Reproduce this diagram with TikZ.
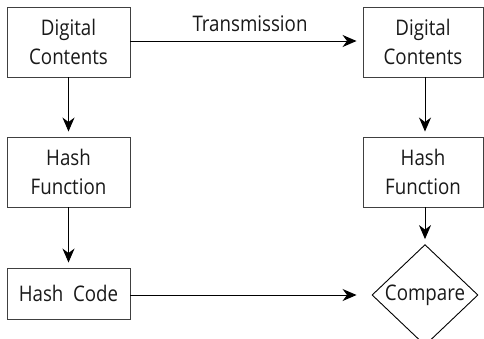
\documentclass[tikz,border=0pt]{standalone}
\usepackage{fontspec}
\setmainfont{Open Sans}[FakeStretch=0.87]
\usetikzlibrary{arrows.meta,shapes.geometric}
\begin{document}
\begin{tikzpicture}[x=1pt,y=-1pt,
  every node/.style={font=\fontsize{21.5}{29}\selectfont, text=black!90},
  box/.style={draw=black!75, line width=0.9pt, inner sep=0pt, align=center},
  arr/.style={draw=black, line width=1pt, -{Stealth[length=14pt,width=12pt,inset=4.5pt]}},
  cmpbox/.style={draw=black, line width=0.9pt, diamond, inner sep=0pt, minimum width=106pt, minimum height=88pt}
]
\useasboundingbox (0,0) rectangle (484,338);
\node[box, minimum width=123pt, minimum height=70pt] (dc1) at (68.5,42) {Digital\\Contents};
\node[box, minimum width=123pt, minimum height=70pt] (hf1) at (68.5,172) {Hash\\Function};
\node[box, minimum width=123pt, minimum height=51pt] (hc) at (68.5,293.5) {Hash~\ Code};
\node[box, minimum width=120pt, minimum height=70pt] (dc2) at (423,42) {Digital\\Contents};
\node[box, minimum width=120pt, minimum height=70pt] (hf2) at (423,172) {Hash\\Function};
\node[cmpbox] (cmp) at (425,295) {Compare};
\node[anchor=base] (trans) at (250,31) {Transmission};
\draw[arr, shorten >=5pt] (dc1.south) -- (hf1.north);
\draw[arr, shorten >=5pt] (hf1.south) -- (hc.north);
\draw[arr, shorten >=6pt] (dc1.east |- 0,41) -- (dc2.west |- 0,41);
\draw[arr, shorten >=5pt] (dc2.south -| cmp.north) -- (hf2.north -| cmp.north);
\draw[arr, shorten >=5pt] (hf2.south -| cmp.north) -- (cmp.north);
\draw[arr, shorten >=15pt] (hc.east |- cmp.west) -- (cmp.west);
\end{tikzpicture}
\end{document}
